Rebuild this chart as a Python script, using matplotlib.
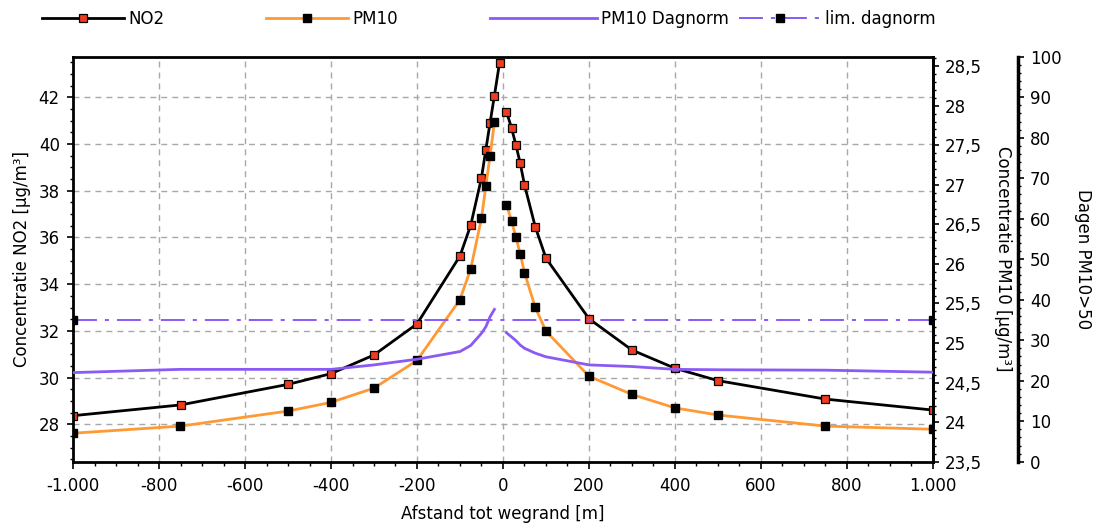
import matplotlib
matplotlib.use("Agg")
import matplotlib.pyplot as plt
from matplotlib.ticker import MultipleLocator, FuncFormatter

# ---------------- data ----------------
dist_no2_left = [-1000, -750, -500, -400, -300, -200, -100, -75, -50, -40, -30, -20, -8]
no2_left = [28.37, 28.83, 29.71, 30.17, 30.97, 32.30, 35.21, 36.53, 38.56, 39.75, 40.92, 42.07, 43.49]
dist_right = [8, 20, 30, 40, 50, 75, 100, 200, 300, 400, 500, 750, 1000]
no2_right = [41.39, 40.68, 39.96, 39.18, 38.25, 36.46, 35.11, 32.52, 31.18, 30.40, 29.87, 29.08, 28.61]

dist_pm_left = [-1000, -750, -500, -400, -300, -200, -100, -75, -50, -40, -30, -20]
pm10_left = [23.86, 23.95, 24.14, 24.25, 24.43, 24.78, 25.55, 25.94, 26.58, 26.98, 27.37, 27.79]
pm10_right = [26.75, 26.54, 26.34, 26.13, 25.89, 25.45, 25.15, 24.58, 24.35, 24.18, 24.09, 23.95, 23.91]

days_left = [22.0, 22.8, 22.8, 22.8, 23.9, 25.3, 27.2, 28.7, 31.7, 33.3, 35.8, 37.6]
days_right = [31.85, 30.8, 29.9, 28.8, 28.0, 26.8, 25.9, 23.9, 23.5, 22.8, 22.7, 22.6, 22.1]

lim_dist = [-1000, 1000]
lim_days = [35, 35]

labels = ["NO2", "PM10", "PM10 Dagnorm", "lim. dagnorm"]

# ---------------- style ----------------
plt.rcParams['font.family'] = ['DejaVu Sans']
plt.rcParams['font.size'] = 12
plt.rcParams['axes.unicode_minus'] = False

C_RED = '#f03c1e'
C_ORANGE = '#ff9933'
C_PURPLE = '#8a5af5'
C_GRID = '#a8a8a8'

W, H = 1096, 527
fig = plt.figure(figsize=(W / 100, H / 100), dpi=100)
ax = fig.add_axes([73 / W, 1 - 461.7 / H, 860 / W, 405 / H])
ax2 = ax.twinx()
ax3 = ax.twinx()

# NO2
l_no2, = ax.plot(dist_no2_left, no2_left, color='black', lw=2.0, marker='s', ms=5.6,
                 mfc=C_RED, mec='black', mew=0.9, label=labels[0])
ax.plot(dist_right, no2_right, color='black', lw=2.0, marker='s', ms=5.6,
        mfc=C_RED, mec='black', mew=0.9)

# PM10
l_pm, = ax2.plot(dist_pm_left, pm10_left, color=C_ORANGE, lw=2.0, marker='s', ms=5.5,
                 mfc='black', mec='black', label=labels[1])
ax2.plot(dist_right, pm10_right, color=C_ORANGE, lw=2.0, marker='s', ms=5.5,
         mfc='black', mec='black')

# Days
l_dag, = ax3.plot(dist_pm_left, days_left, color=C_PURPLE, lw=2.0, label=labels[2])
ax3.plot(dist_right, days_right, color=C_PURPLE, lw=2.0)
l_lim, = ax3.plot(lim_dist, lim_days, color=C_PURPLE, lw=1.4,
                  ls=(0, (12.3, 4.1, 2.1, 4.1)), marker='s', ms=5.5,
                  mfc='black', mec='black', label=labels[3])

# ---------------- axes ----------------
ax.set_xlim(-1000, 1000)
ax.set_ylim(26.4, 43.74)
ax2.set_ylim(23.5, 28.62)
ax3.set_ylim(0, 100)

ax.xaxis.set_major_locator(MultipleLocator(200))
ax.xaxis.set_minor_locator(MultipleLocator(50))
ax.yaxis.set_major_locator(MultipleLocator(2))
ax.yaxis.set_minor_locator(MultipleLocator(0.5))
ax2.yaxis.set_major_locator(MultipleLocator(0.5))
ax2.yaxis.set_minor_locator(MultipleLocator(0.1))
ax3.yaxis.set_major_locator(MultipleLocator(10))
ax3.yaxis.set_minor_locator(MultipleLocator(2))

ax.xaxis.set_major_formatter(FuncFormatter(lambda v, p: f"{int(round(v)):,}".replace(",", ".")))
ax.yaxis.set_major_formatter(FuncFormatter(lambda v, p: f"{int(round(v))}"))
ax2.yaxis.set_major_formatter(FuncFormatter(
    lambda v, p: f"{v:.1f}".rstrip('0').rstrip('.').replace('.', ',')))
ax3.yaxis.set_major_formatter(FuncFormatter(lambda v, p: f"{int(round(v))}"))

ax.grid(True, which='major', color=C_GRID, ls=(0, (4.3, 3.6)), lw=1.0)
ax.set_axisbelow(True)

for s in ax.spines.values():
    s.set_linewidth(2.0)
    s.set_color('black')
for name in ['left', 'top', 'bottom']:
    ax2.spines[name].set_visible(False)
    ax3.spines[name].set_visible(False)
ax2.spines['right'].set_linewidth(2.0)
ax3.spines['right'].set_position(('axes', 1.099))
ax3.spines['right'].set_linewidth(2.5)

ax.tick_params(axis='x', which='major', length=5, width=1.2, pad=6)
ax.tick_params(axis='x', which='minor', length=3, width=1.0)
ax.tick_params(axis='y', which='major', length=4.5, width=1.2, pad=5)
ax.tick_params(axis='y', which='minor', length=2.5, width=1.0)
for a in (ax2, ax3):
    a.tick_params(axis='y', which='major', length=4.5, width=1.2, pad=4)
    a.tick_params(axis='y', which='minor', length=2.5, width=1.0)

ax.set_xlabel("Afstand tot wegrand [m]")
ax.xaxis.set_label_coords(0.5, -0.129)
ax.xaxis.label.set_va('center')

ax.set_ylabel("Concentratie NO2 [µg/m³]")
ax.yaxis.set_label_coords(-0.059, 0.5)
ax.yaxis.label.set_va('center')

ax2.set_ylabel("Concentratie PM10 [µg/m³]", rotation=270)
ax2.yaxis.set_label_coords(1.081, 0.5)
ax2.yaxis.label.set_va('center')

ax3.set_ylabel("Dagen PM10>50", rotation=270)
ax3.yaxis.set_label_coords(1.174, 0.5)
ax3.yaxis.label.set_va('center')

# ---------------- legend ----------------
leg_y = 1 - 19.3 / H
for h, x0, hl in [(l_no2, 42, 4.92), (l_pm, 266, 4.92), (l_dag, 490, 6.4), (l_lim, 739, 4.92)]:
    fig.legend(handles=[h], loc='center left', bbox_to_anchor=(x0 / W, leg_y),
               frameon=False, borderpad=0, borderaxespad=0, handlelength=hl,
               handletextpad=0.25, fontsize=12, numpoints=1)

fig.savefig("out.png", dpi=100)
